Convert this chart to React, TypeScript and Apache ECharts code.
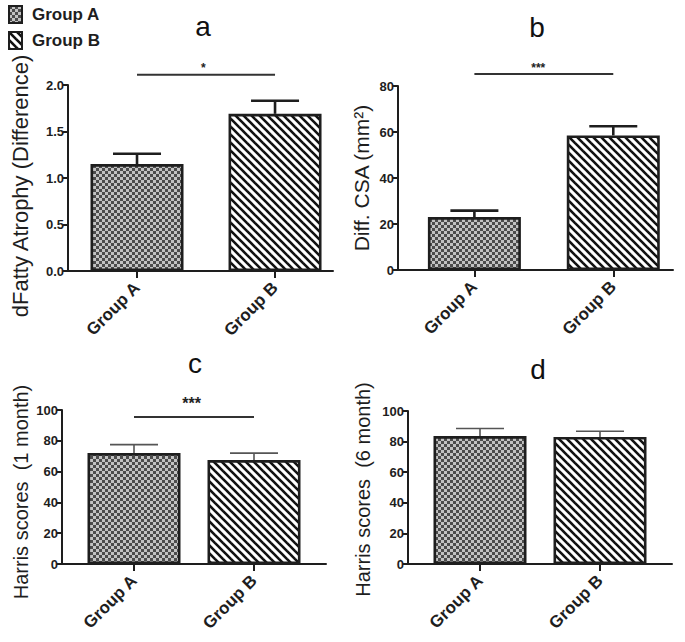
import React, { useEffect, useRef } from "react";
import * as echarts from "echarts";

const categories = ["Group A", "Group B"];

// Panel a: dFatty Atrophy (Difference)
const aMeans = [1.15, 1.69];
const aSem = [0.11, 0.14];
// Panel b: Diff. CSA (mm²)
const bMeans = [23, 58.5];
const bSem = [2.8, 4.0];
// Panel c: Harris scores (1 month)
const cMeans = [72, 67.5];
const cSem = [5.5, 4.5];
// Panel d: Harris scores (6 month)
const dMeans = [83.6, 83];
const dSem = [5.0, 3.8];

// significance: [x0, x1, lineY, starX, starY]
const aSig = [0, 1, 2.11, 0.48, 2.18];
const bSig = [0, 1, 85.2, 0.46, 87.8];
const cSig = [0, 1, 95.5, 0.48, 104];
const aStars = "*";
const bStars = "***";
const cStars = "***";

const yNames = [
  "dFatty Atrophy (Difference)",
  "Diff. CSA (mm²)",
  "Harris scores  (1 month)",
  "Harris scores  (6 month)",
];
const panelLetters = ["a", "b", "c", "d"];

const FONT = "'Liberation Sans', Arial, Helvetica, sans-serif";
const INK = "#1e1e1e";

function makeCheck(): HTMLCanvasElement {
  const c = document.createElement("canvas");
  c.width = 6;
  c.height = 6;
  const g = c.getContext("2d")!;
  g.fillStyle = "#c2c2c2";
  g.fillRect(0, 0, 6, 6);
  g.fillStyle = "#4c4c4c";
  g.fillRect(0, 0, 3, 3);
  g.fillRect(3, 3, 3, 3);
  return c;
}

function makeStripe(): HTMLCanvasElement {
  const s = 8;
  const c = document.createElement("canvas");
  c.width = s;
  c.height = s;
  const g = c.getContext("2d")!;
  g.fillStyle = "#ffffff";
  g.fillRect(0, 0, s, s);
  g.strokeStyle = "#111111";
  g.lineWidth = 2.6;
  for (const k of [-s, 0, s]) {
    g.beginPath();
    g.moveTo(k - 1, -1);
    g.lineTo(k + s + 1, s + 1);
    g.stroke();
  }
  return c;
}

export default function App() {
  const ref = useRef<HTMLDivElement>(null);

  useEffect(() => {
    if (!ref.current) return;
    const chart = echarts.init(ref.current, undefined, { renderer: "svg" });

    const checkFill: any = { image: makeCheck(), repeat: "repeat" };
    const stripeFill: any = { image: makeStripe(), repeat: "repeat" };

    const grids = [
      { left: 68, top: 85, width: 265, height: 186 },
      { left: 398, top: 86, width: 275, height: 184 },
      { left: 62, top: 410, width: 264, height: 154 },
      { left: 408, top: 411, width: 264, height: 153 },
    ];
    const xRanges = [
      [-0.5, 1.42],
      [-0.55, 1.43],
      [-0.6, 1.6],
      [-0.6, 1.6],
    ];
    const yRanges = [
      [0, 2, 0.5],
      [0, 80, 20],
      [0, 100, 20],
      [0, 100, 20],
    ];
    const nameGaps = [37, 26, 31, 35];
    const nameSizes = [22, 21, 20, 20];
    const namePads = [
      [0, 16, 0, 0],
      [0, 0, 0, 0],
      [0, 10, 0, 0],
      [0, 4, 0, 0],
    ];
    const means = [aMeans, bMeans, cMeans, dMeans];
    const sems = [aSem, bSem, cSem, dSem];
    const errStyles = [
      { w: 2.6, c: INK },
      { w: 2.6, c: INK },
      { w: 1.6, c: "#555" },
      { w: 1.6, c: "#555" },
    ];
    const sigs: any[] = [
      [aSig, aStars, 12],
      [bSig, bStars, 12],
      [cSig, cStars, 16],
    ];

    const xAxis = grids.map((_, i) => ({
      type: "value",
      gridIndex: i,
      min: xRanges[i][0],
      max: xRanges[i][1],
      splitLine: { show: false },
      axisLine: { show: true, onZero: false, lineStyle: { color: INK, width: 2 } },
      axisTick: {
        show: true,
        customValues: [0, 1],
        length: 7,
        lineStyle: { color: INK, width: 2 },
      },
      axisLabel: {
        show: true,
        customValues: [0, 1],
        formatter: (v: number) => categories[Math.round(v)] ?? "",
        rotate: 45,
        margin: 14,
        color: INK,
        fontSize: 17,
        fontWeight: "bold",
        fontFamily: FONT,
      },
    }));

    const yAxis = grids.map((_, i) => ({
      type: "value",
      gridIndex: i,
      min: yRanges[i][0],
      max: yRanges[i][1],
      interval: yRanges[i][2],
      name: yNames[i],
      nameLocation: "middle",
      nameGap: nameGaps[i],
      nameTextStyle: {
        color: INK,
        fontSize: nameSizes[i],
        fontFamily: FONT,
        padding: namePads[i],
      },
      splitLine: { show: false },
      axisLine: { show: true, onZero: false, lineStyle: { color: INK, width: 2 } },
      axisTick: { show: true, length: 5, lineStyle: { color: INK, width: 2 } },
      axisLabel: {
        color: INK,
        fontSize: 13,
        fontWeight: "bold",
        fontFamily: FONT,
        margin: 4,
        formatter: (v: number) => (i === 0 ? v.toFixed(1) : String(v)),
      },
    }));

    const series: any[] = [];
    grids.forEach((_, i) => {
      series.push({
        type: "bar",
        name: "Group A",
        xAxisIndex: i,
        yAxisIndex: i,
        barWidth: 93,
        barGap: "-100%",
        data: [[0, means[i][0]]],
        itemStyle: { color: checkFill, borderColor: INK, borderWidth: 2.6 },
        z: 3,
      });
      series.push({
        type: "bar",
        name: "Group B",
        xAxisIndex: i,
        yAxisIndex: i,
        barWidth: 93,
        barGap: "-100%",
        data: [[1, means[i][1]]],
        itemStyle: { color: stripeFill, borderColor: INK, borderWidth: 2.6 },
        z: 3,
      });
      const es = errStyles[i];
      series.push({
        type: "custom",
        xAxisIndex: i,
        yAxisIndex: i,
        z: 2,
        silent: true,
        data: means[i].map((m, k) => [k, m, m + sems[i][k]]),
        encode: { x: 0, y: [1, 2] },
        renderItem: (params: any, api: any) => {
          const x = api.value(0);
          const p0 = api.coord([x, api.value(1)]);
          const p1 = api.coord([x, api.value(2)]);
          const half = 24;
          const style = { stroke: es.c, lineWidth: es.w };
          return {
            type: "group",
            children: [
              { type: "line", shape: { x1: p0[0], y1: p0[1], x2: p1[0], y2: p1[1] }, style },
              { type: "line", shape: { x1: p1[0] - half, y1: p1[1], x2: p1[0] + half, y2: p1[1] }, style },
            ],
          };
        },
      });
      if (sigs[i]) {
        const [sg, stars, fs] = sigs[i];
        series.push({
          type: "custom",
          xAxisIndex: i,
          yAxisIndex: i,
          silent: true,
          clip: false,
          z: 4,
          data: [sg],
          encode: { x: [0, 1], y: 2 },
          renderItem: (params: any, api: any) => {
            const a = api.coord([api.value(0), api.value(2)]);
            const b = api.coord([api.value(1), api.value(2)]);
            const t = api.coord([api.value(3), api.value(4)]);
            return {
              type: "group",
              children: [
                {
                  type: "line",
                  shape: { x1: a[0], y1: a[1], x2: b[0], y2: b[1] },
                  style: { stroke: "#333", lineWidth: 2 },
                },
                {
                  type: "text",
                  x: t[0],
                  y: t[1],
                  style: {
                    text: stars,
                    fill: "#222",
                    fontSize: fs,
                    fontWeight: "bold",
                    fontFamily: FONT,
                    align: "center",
                    verticalAlign: "middle",
                  },
                },
              ],
            };
          },
        });
      }
    });

    const letterPos = [
      [203, 26],
      [537, 27],
      [195, 363],
      [538, 369],
    ];

    chart.setOption({
      animation: false,
      backgroundColor: "#ffffff",
      grid: grids,
      xAxis,
      yAxis,
      series,
      legend: {
        orient: "vertical",
        left: 3,
        top: 0,
        icon: "rect",
        itemWidth: 13,
        itemHeight: 17,
        itemGap: 7,
        data: ["Group A", "Group B"],
        textStyle: {
          color: INK,
          fontSize: 17,
          fontWeight: "bold",
          fontFamily: FONT,
          padding: [0, 0, 0, 5],
        },
      },
      graphic: panelLetters.map((t, i) => ({
        type: "text",
        x: letterPos[i][0],
        y: letterPos[i][1],
        style: {
          text: t,
          fill: "#111",
          fontSize: 28,
          fontFamily: FONT,
          align: "center",
          verticalAlign: "middle",
          textAlign: "center",
          textVerticalAlign: "middle",
        },
      })),
    });

    return () => chart.dispose();
  }, []);

  return (
    <div
      ref={ref}
      style={{ position: "absolute", left: 0, top: 0, width: 685, height: 642, background: "#fff" }}
    />
  );
}
